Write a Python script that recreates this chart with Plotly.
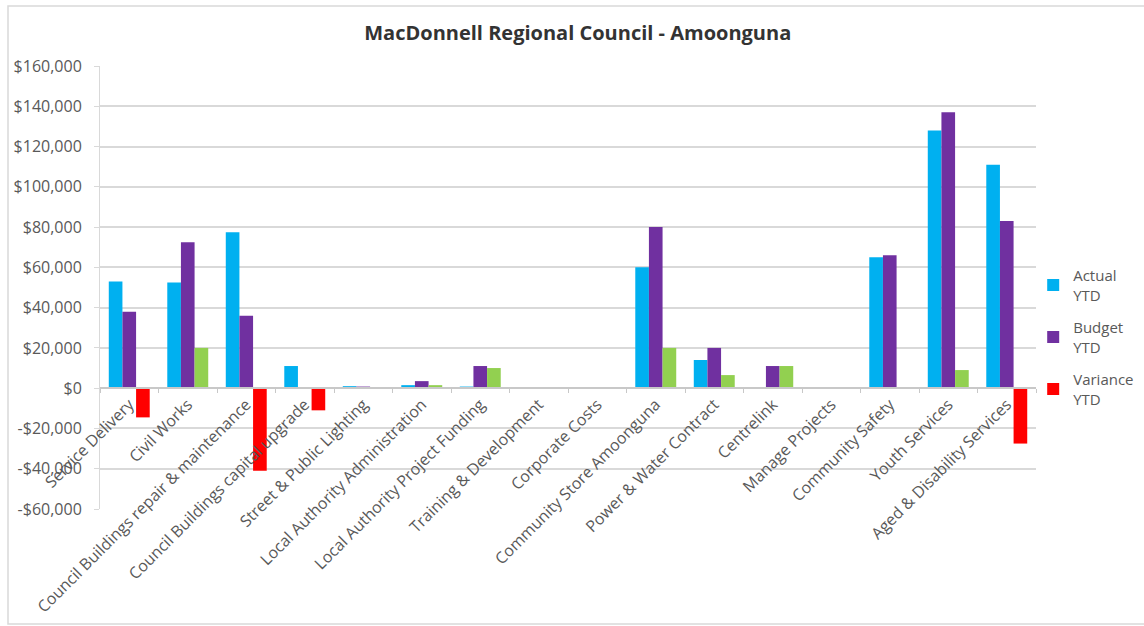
import plotly.graph_objects as go

categories = ["Service Delivery", "Civil Works", "Council Buildings repair & maintenance",
              "Council Buildings capital upgrade", "Street & Public Lighting",
              "Local Authority Administration", "Local Authority Project Funding",
              "Training & Development", "Corporate Costs", "Community Store Amoonguna",
              "Power & Water Contract", "Centrelink", "Manage Projects",
              "Community Safety", "Youth Services", "Aged & Disability Services"]
actual = [53000, 52500, 77500, 11000, 1000, 1500, 800, 500, 0, 60000, 14000, 0, 0, 65000, 128000, 111000]
budget = [38000, 72500, 36000, 0, 800, 3500, 11000, 300, 0, 80000, 20000, 11000, 0, 66000, 137000, 83000]
variance = [-14500, 20000, -41000, -11000, -200, 1500, 10000, -200, 0, 20000, 6500, 11000, 0, 500, 9000, -27500]

ytick_vals = [-60000, -40000, -20000, 0, 20000, 40000, 60000, 80000, 100000, 120000, 140000, 160000]
ytick_text = ["-$60,000", "-$40,000", "-$20,000", "$0", "$20,000", "$40,000", "$60,000",
              "$80,000", "$100,000", "$120,000", "$140,000", "$160,000"]

var_colors = ["#92D050" if v >= 0 else "#FF0000" for v in variance]

fig = go.Figure()
fig.add_trace(go.Bar(name="Actual<br>YTD", x=categories, y=actual, marker_color="#00B0F0",
                     legendgroup="a"))
fig.add_trace(go.Bar(name="Budget<br>YTD", x=categories, y=budget, marker_color="#7030A0",
                     legendgroup="b"))
fig.add_trace(go.Bar(name="Variance<br>YTD", x=categories, y=variance,
                     marker=dict(color=var_colors), legendgroup="c"))

font = "Open Sans, Liberation Sans, sans-serif"
ymin, ymax = -60000, 160000
zero_pos = (0 - ymin) / (ymax - ymin)

fig.update_layout(
    template="none",
    width=1144, height=626,
    margin=dict(l=100, r=108, t=66, b=117, autoexpand=False),
    paper_bgcolor="white", plot_bgcolor="white",
    barmode="group", bargap=0.3, bargroupgap=0,
    title=dict(text="<b>MacDonnell Regional Council - Amoonguna</b>", x=0.505, xanchor="center",
               y=0.947, yanchor="middle", font=dict(family=font, size=20, color="#333333")),
    font=dict(family=font, size=14, color="#595959"),
    legend=dict(x=0.997, y=0.388, xanchor="left", yanchor="middle",
                font=dict(family=font, size=15, color="#595959"),
                tracegroupgap=10, itemwidth=30, bgcolor="rgba(0,0,0,0)"),
    showlegend=True,
)
fig.update_xaxes(tickangle=-45, automargin=False, showgrid=False,
                 anchor="free", position=zero_pos,
                 showline=True, linecolor="#C8C8C8", linewidth=1.5,
                 ticks="outside", tickson="boundaries", ticklen=4, tickcolor="#C8C8C8",
                 tickfont=dict(family=font, size=16, color="#595959"),
                 zeroline=False)
fig.update_yaxes(range=[ymin, ymax], tickvals=ytick_vals, ticktext=ytick_text,
                 showgrid=True, gridcolor="#D9D9D9", gridwidth=2,
                 zeroline=False,
                 showline=True, linecolor="#D9D9D9", linewidth=1,
                 automargin=False, ticks="outside", ticklen=5, tickcolor="#D9D9D9",
                 ticklabelstandoff=9,
                 tickfont=dict(family=font, size=16, color="#595959"))
fig.add_shape(type="rect", xref="paper", yref="paper",
              x0=(8 - 100) / 936, x1=(1150 - 100) / 936,
              y0=(626 - 117 - 624) / 443, y1=(626 - 117 - 6) / 443,
              line=dict(color="#D9D9D9", width=1.5), fillcolor="rgba(0,0,0,0)", layer="below")
fig.write_html("out.html")
